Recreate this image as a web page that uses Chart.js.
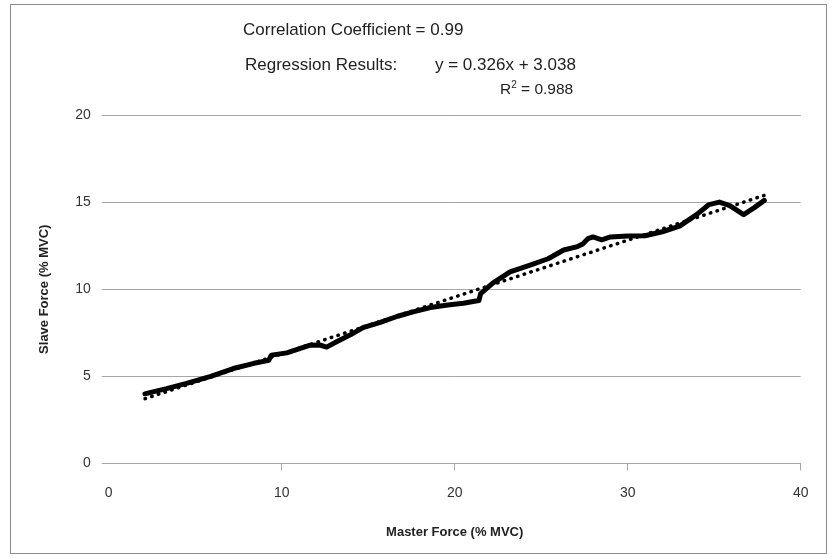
<!DOCTYPE html>
<html>
<head>
<meta charset="utf-8">
<script src="https://cdn.jsdelivr.net/npm/chart.js@4.4.1/dist/chart.umd.min.js"></script>
<style>
  body { margin: 0; background: #fff; }
  #wrap { position: relative; width: 832px; height: 558px; }
  #frame { position: absolute; left: 10px; top: 4px; width: 817px; height: 550px; border: 1.5px solid #8c8c8c; box-sizing: border-box; }
  canvas { position: absolute; left: 0; top: 0; }
  .note { position: absolute; font: 17px "Liberation Sans", Arial, sans-serif; color: #222; line-height: 18px; white-space: nowrap; }
</style>
</head>
<body>
<div id="wrap">
  <div id="frame"></div>
  <canvas id="forceChart" width="832" height="558"></canvas>
  <div class="note" style="left:243px; top:21px;">Correlation Coefficient = 0.99</div>
  <div class="note" style="left:245px; top:56px;">Regression Results:</div>
  <div class="note" style="left:435px; top:56px;">y = 0.326x + 3.038</div>
  <div class="note" style="left:500px; top:80px; font-size:15.5px;">R<sup style="font-size:10px; line-height:0;">2</sup> = 0.988</div>
</div>
<script>
// master force (% MVC) and the matching slave force
const masterForce = [2.1, 2.5, 3.35, 4.5, 5.9, 7.2, 8.4, 9.25, 9.4, 10.3, 11.6, 12.2, 12.6, 13.2, 14.0,
  14.7, 15.7, 16.7, 17.6, 18.6, 19.6, 20.5, 21.4, 21.5, 22.2, 23.2, 24.4, 25.4, 26.3, 27.1,
  27.4, 27.7, 28.0, 28.5, 29.0, 30.0, 31.0, 32.0, 33.0, 34.0, 34.7, 35.3, 35.9, 36.7, 37.3, 37.9];
const slaveForce = [4.0, 4.1, 4.3, 4.6, 5.0, 5.45, 5.75, 5.92, 6.22, 6.35, 6.78, 6.8, 6.68, 7.0, 7.4,
  7.8, 8.1, 8.45, 8.7, 8.95, 9.1, 9.2, 9.35, 9.75, 10.35, 11.0, 11.4, 11.75, 12.25, 12.45,
  12.6, 12.9, 13.0, 12.84, 13.0, 13.05, 13.07, 13.3, 13.62, 14.3, 14.86, 15.0, 14.8, 14.28, 14.67, 15.1];

// linear trend line end points
const trendX = [2.1, 37.9];
const trendY = [3.72, 15.39];

const xTicks = [0, 10, 20, 30, 40];
const yTicks = [0, 5, 10, 15, 20];

const tickFont = { family: "Liberation Sans, Arial, sans-serif", size: 14 };
const titleFont = { family: "Liberation Sans, Arial, sans-serif", size: 13, weight: "bold" };

const ctx = document.getElementById("forceChart").getContext("2d");

new Chart(ctx, {
  type: "scatter",
  data: {
    datasets: [
      {
        label: "Slave Force",
        data: masterForce.map((x, i) => ({ x: x, y: slaveForce[i] })),
        showLine: true,
        borderColor: "#000",
        borderWidth: 5,
        borderJoinStyle: "round",
        borderCapStyle: "round",
        pointRadius: 0,
        tension: 0
      },
      {
        label: "Linear trend",
        data: trendX.map((x, i) => ({ x: x, y: trendY[i] })),
        showLine: true,
        borderColor: "#000",
        borderWidth: 3.5,
        borderDash: [0.5, 6.5],
        borderCapStyle: "round",
        pointRadius: 0
      }
    ]
  },
  options: {
    responsive: false,
    animation: false,
    layout: { padding: { left: 0, top: 115, right: 31.3, bottom: 0 } },
    plugins: {
      legend: { display: false },
      tooltip: { enabled: false }
    },
    scales: {
      x: {
        type: "linear",
        min: 0,
        max: 40,
        afterBuildTicks: s => { s.ticks = xTicks.map(v => ({ value: v })); },
        afterFit: s => { s.height = 94.5; },
        border: { display: true, color: "#a6a6a6", width: 1 },
        grid: {
          drawOnChartArea: false,
          drawTicks: true,
          tickLength: 7,
          color: c => (c.tick && c.tick.value === 0 ? "rgba(0,0,0,0)" : "#a6a6a6")
        },
        ticks: { color: "#333", font: tickFont, padding: 14, maxRotation: 0 },
        title: {
          display: true,
          text: "Master Force (% MVC)",
          color: "#222",
          font: titleFont,
          padding: { top: 0, bottom: 17.6 }
        }
      },
      y: {
        type: "linear",
        min: 0,
        max: 20,
        afterBuildTicks: s => { s.ticks = yTicks.map(v => ({ value: v })); },
        afterFit: s => { s.width = 108.7; },
        border: { display: false },
        grid: { color: "#a6a6a6", lineWidth: 1, drawTicks: true, tickLength: 7 },
        ticks: { color: "#333", font: tickFont, padding: 11 },
        title: {
          display: true,
          text: "Slave Force (% MVC)",
          color: "#222",
          font: titleFont,
          padding: { top: 36.6, bottom: 0 }
        }
      }
    }
  }
});
</script>
</body>
</html>
